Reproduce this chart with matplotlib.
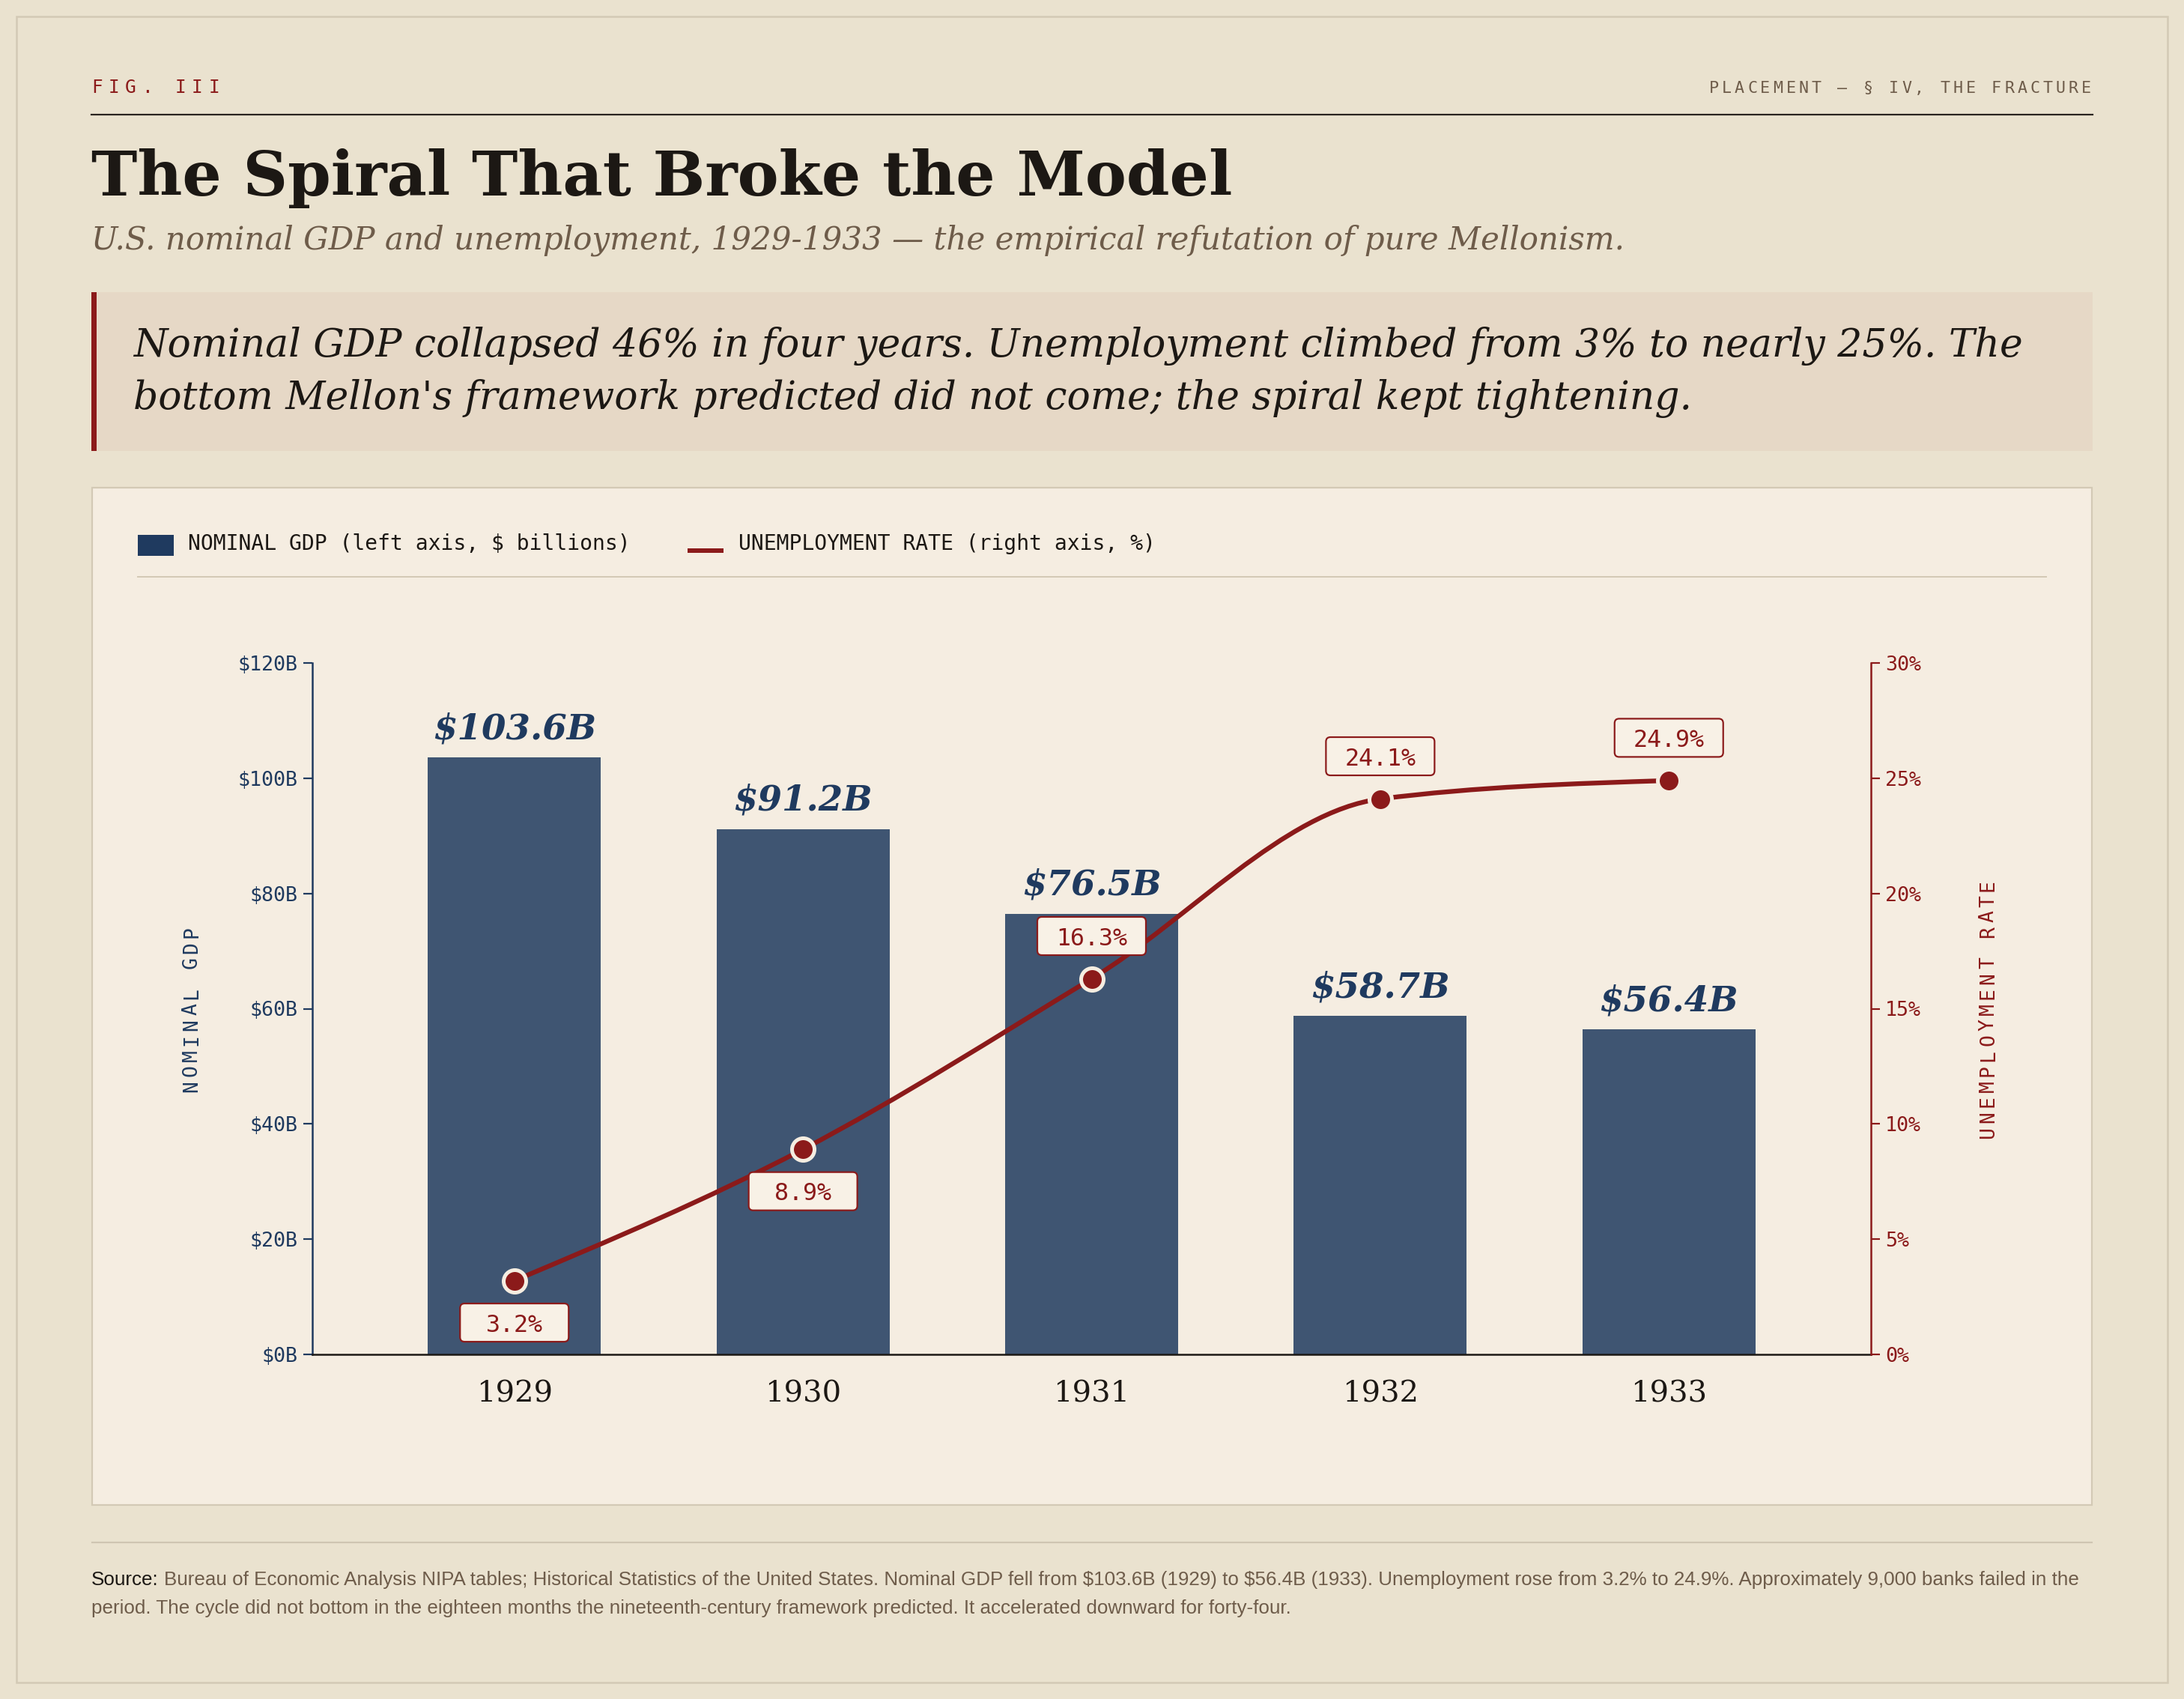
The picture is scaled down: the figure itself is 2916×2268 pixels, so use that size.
import numpy as np
import matplotlib
matplotlib.use("Agg")
import matplotlib.pyplot as plt
from matplotlib.patches import Rectangle, FancyBboxPatch, PathPatch
from matplotlib.path import Path
from matplotlib.transforms import IdentityTransform

# ---------------- data ----------------
years = ["1929", "1930", "1931", "1932", "1933"]
gdp = [103.6, 91.2, 76.5, 58.7, 56.4]
unemp = [3.2, 8.9, 16.3, 24.1, 24.9]
gdp_labels = ["$103.6B", "$91.2B", "$76.5B", "$58.7B", "$56.4B"]
unemp_labels = ["3.2%", "8.9%", "16.3%", "24.1%", "24.9%"]
gdp_ticks = [0, 20, 40, 60, 80, 100, 120]
gdp_ticklabels = ["$0B", "$20B", "$40B", "$60B", "$80B", "$100B", "$120B"]
unemp_ticks = [0, 5, 10, 15, 20, 25, 30]
unemp_ticklabels = ["0%", "5%", "10%", "15%", "20%", "25%", "30%"]

# ---------------- style ----------------
W, H = 2916, 2268
DPI = 200
BG = "#eae2cf"
PANEL = "#f5ede1"
CALLOUT = "#e6d8c6"
NAVY = "#1f3a5f"
RED = "#8b1a1a"
INK = "#1c1814"
MUTED = "#6e5c4a"
RULE = "#d3c9b5"
MONO = "DejaVu Sans Mono"
SERIF = "DejaVu Serif"
SANS = "Liberation Sans"

fig = plt.figure(figsize=(W / DPI, H / DPI), dpi=DPI, facecolor=BG)
renderer = fig.canvas.get_renderer()


def fx(x):
    return x / W


def fy(y):
    return 1 - y / H


def rect(x0, y0, x1, y1, **kw):
    r = Rectangle((fx(x0), fy(y1)), (x1 - x0) / W, (y1 - y0) / H,
                  transform=fig.transFigure, zorder=-5, **kw)
    fig.patches.append(r)
    return r


def pt(px):
    return px * 72 / DPI


def fit_text(x, y, s, target_w, fs0, **kw):
    t = fig.text(fx(x), fy(y), s, fontsize=fs0, parse_math=False, **kw)
    w = t.get_window_extent(renderer).width
    fs = fs0 * target_w / w
    t.set_fontsize(fs)
    return t, fs


def spaced(x, y, s, fs, sp, color, ha="left"):
    em = fs * DPI / 72
    adv = 0.602 * em + sp
    total = adv * (len(s) - 1) + 0.602 * em
    x0 = x - total if ha == "right" else x
    for i, c in enumerate(s):
        fig.text(fx(x0 + i * adv), fy(y), c, fontsize=fs, family=MONO,
                 color=color, ha="left", va="baseline")


def spaced_vert(xc, yc, s, fs, sp, color):
    em = fs * DPI / 72
    adv = 0.602 * em + sp
    total = adv * (len(s) - 1) + 0.602 * em
    ystart = yc + total / 2 - 0.301 * em
    for i, c in enumerate(s):
        fig.text(fx(xc), fy(ystart - i * adv), c, fontsize=fs, family=MONO,
                 color=color, ha="center", va="center", rotation=90)


# ---------------- frame & header ----------------
rect(22, 22, 2894, 2246, facecolor="none", edgecolor=RULE, lw=pt(2.5))

spaced(122, 124, "FIG. III", 8.8, 7.6, RED)
spaced(2792, 124, "PLACEMENT \u2014 \u00a7 IV, THE FRACTURE", 7.8, 4.1, MUTED, ha="right")
fig.add_artist(plt.Line2D([fx(122), fx(2794)], [fy(153), fy(153)],
                          transform=fig.transFigure, color="#2a2420", lw=pt(2.2)))

fit_text(122, 261, "The Spiral That Broke the Model", 1523, 32,
         family=SERIF, weight="bold", color=INK, va="baseline")
fit_text(122, 332, "U.S. nominal GDP and unemployment, 1929-1933 \u2014 the empirical refutation of pure Mellonism.",
         2046, 14, family=SERIF, style="italic", color=MUTED, va="baseline")

# callout
rect(122, 390, 2794, 602, facecolor=CALLOUT, edgecolor="none")
rect(122, 390, 129, 602, facecolor=RED, edgecolor="none")
_, cfs = fit_text(178, 476,
                  "Nominal GDP collapsed 46% in four years. Unemployment climbed from 3% to nearly 25%. The",
                  2522, 19, family=SERIF, style="italic", color=INK, va="baseline")
fig.text(fx(178), fy(546), "bottom Mellon's framework predicted did not come; the spiral kept tightening.",
         fontsize=cfs, family=SERIF, style="italic", color=INK, va="baseline")

# chart panel
rect(123, 651, 2793, 2009, facecolor=PANEL, edgecolor=RULE, lw=pt(2.2))

# legend
rect(184, 714, 232, 742, facecolor=NAVY, edgecolor="none")
fig.text(fx(251), fy(734), "NOMINAL GDP (left axis, $ billions)", fontsize=10.1,
         family=MONO, color=INK, va="baseline", parse_math=False)
rect(918, 732, 966, 738, facecolor=RED, edgecolor="none")
fig.text(fx(986), fy(734), "UNEMPLOYMENT RATE (right axis, %)", fontsize=10.1,
         family=MONO, color=INK, va="baseline")
fig.add_artist(plt.Line2D([fx(184), fx(2732)], [fy(770), fy(770)],
                          transform=fig.transFigure, color=RULE, lw=pt(2)))

# ---------------- axes ----------------
ax = fig.add_axes([fx(417), fy(1808), (2498 - 417) / W, (1808 - 885) / H])
ax.set_facecolor("none")
x = np.arange(len(years))
ax.set_xlim(-0.7, len(years) - 0.3)
ax.set_ylim(gdp_ticks[0], gdp_ticks[-1])
ax.bar(x, gdp, width=0.6, color=NAVY, alpha=0.85, zorder=2, linewidth=0)

for s in ["top", "right"]:
    ax.spines[s].set_visible(False)
ax.spines["left"].set_color(NAVY)
ax.spines["left"].set_linewidth(pt(2.5))
ax.spines["bottom"].set_color(INK)
ax.spines["bottom"].set_linewidth(pt(2.5))
ax.set_yticks(gdp_ticks)
ax.set_yticklabels(gdp_ticklabels)
ax.tick_params(axis="y", colors=NAVY, length=pt(12), width=pt(2.2), pad=pt(7),
               labelsize=9.6, labelfontfamily=MONO)
ax.set_xticks(x)
ax.set_xticklabels([])
ax.tick_params(axis="x", length=0)

# bar value labels
_probe = fig.text(0, 0, gdp_labels[0], fontsize=17, family=SERIF, weight="bold", style="italic",
                  parse_math=False)
bfs = 17 * 218 / _probe.get_window_extent(renderer).width
_probe.remove()
for i, (g, lbl) in enumerate(zip(gdp, gdp_labels)):
    ax.annotate(lbl, xy=(i, g), xytext=(0, pt(25)), textcoords="offset points",
                ha="center", va="baseline", family=SERIF, weight="bold",
                style="italic", fontsize=bfs, color=NAVY, zorder=5, parse_math=False)

# year labels
_probe = fig.text(0, 0, years[0], fontsize=14, family=SERIF)
yfs = 14 * 102 / _probe.get_window_extent(renderer).width
_probe.remove()
for i, yl in enumerate(years):
    ax.annotate(yl, xy=(i, 0), xycoords=("data", "axes fraction"),
                xytext=(0, -pt(63)), textcoords="offset points",
                ha="center", va="baseline", family=SERIF, fontsize=yfs, color=INK)

# right axis
ax2 = ax.twinx()
ax2.set_ylim(unemp_ticks[0], unemp_ticks[-1])
ax2.set_xlim(ax.get_xlim())
for s in ["top", "left", "bottom"]:
    ax2.spines[s].set_visible(False)
ax2.spines["right"].set_color(RED)
ax2.spines["right"].set_linewidth(pt(2.5))
ax2.set_yticks(unemp_ticks)
ax2.set_yticklabels(unemp_ticklabels)
ax2.tick_params(axis="y", colors=RED, length=pt(12), width=pt(2.2), pad=pt(7),
                labelsize=9.6, labelfontfamily=MONO)

# monotone cubic (d3 curveMonotoneX) path through the unemployment points
xs = x.astype(float)
ys = np.array(unemp, dtype=float)
n = len(xs)
h = np.diff(xs)
sl = np.diff(ys) / h
tang = np.zeros(n)
for i in range(1, n - 1):
    p = (sl[i - 1] * h[i] + sl[i] * h[i - 1]) / (h[i - 1] + h[i])
    tang[i] = (np.sign(sl[i - 1]) + np.sign(sl[i])) * min(abs(sl[i - 1]), abs(sl[i]), 0.5 * abs(p))
tang[0] = (3 * sl[0] - tang[1]) / 2
tang[-1] = (3 * sl[-1] - tang[-2]) / 2
verts = [(xs[0], ys[0])]
codes = [Path.MOVETO]
for i in range(n - 1):
    dx = (xs[i + 1] - xs[i]) / 3
    verts += [(xs[i] + dx, ys[i] + dx * tang[i]),
              (xs[i + 1] - dx, ys[i + 1] - dx * tang[i + 1]),
              (xs[i + 1], ys[i + 1])]
    codes += [Path.CURVE4] * 3
ax2.add_patch(PathPatch(Path(verts, codes), fill=False, edgecolor=RED,
                        lw=pt(6.3), capstyle="round", joinstyle="round", zorder=3))
ax2.plot(x, unemp, "o", ms=pt(30), mfc=RED, mec=PANEL, mew=pt(5), zorder=4,
         linestyle="none")

# unemployment value labels (fixed-size boxes)
fig.canvas.draw()
BW, BH = 145, 51
for i, (u, lbl) in enumerate(zip(unemp, unemp_labels)):
    px, py = ax2.transData.transform((i, u))
    cy = py - 56 if u < 10 else py + 57
    box = FancyBboxPatch((px - BW / 2, cy - BH / 2), BW, BH,
                         boxstyle="round,pad=0,rounding_size=6",
                         transform=IdentityTransform(), facecolor="#f8f1e6",
                         edgecolor=RED, lw=pt(2.2), zorder=6, clip_on=False)
    ax2.add_artist(box)
    ax2.text(px, cy, lbl, transform=IdentityTransform(), ha="center",
             va="center_baseline", family=MONO, fontsize=11.4, color=RED,
             zorder=7, clip_on=False)

# axis titles
spaced_vert(256, 1347, "NOMINAL GDP", 9.5, 4.7, NAVY)
spaced_vert(2655, 1347, "UNEMPLOYMENT RATE", 9.5, 4.7, RED)

# ---------------- footer ----------------
fig.add_artist(plt.Line2D([fx(123), fx(2793)], [fy(2059), fy(2059)],
                          transform=fig.transFigure, color="#cfc5b2", lw=pt(2.2)))
line1 = ("Bureau of Economic Analysis NIPA tables; Historical Statistics of the United States. "
         "Nominal GDP fell from $103.6B (1929) to $56.4B (1933). Unemployment rose from 3.2% to 24.9%. "
         "Approximately 9,000 banks failed in the")
line2 = ("period. The cycle did not bottom in the eighteen months the nineteenth-century framework "
         "predicted. It accelerated downward for forty-four.")
fs0 = 9.0
t_src = fig.text(fx(122), fy(2116), "Source:", fontsize=fs0, family=SANS,
                 color=INK, va="baseline")
t_l1 = fig.text(0, 0, line1, fontsize=fs0, family=SANS, color=MUTED, va="baseline",
                parse_math=False)
w_src = t_src.get_window_extent(renderer).width
w_l1 = t_l1.get_window_extent(renderer).width
sp = 0.28 * fs0 * DPI / 72
scale = 2652 / (w_src + sp + w_l1)
ffs = fs0 * scale
t_src.set_fontsize(ffs)
t_l1.set_fontsize(ffs)
t_l1.set_position((fx(122 + (w_src + sp) * scale), fy(2116)))
fig.text(fx(122), fy(2154), line2, fontsize=ffs, family=SANS, color=MUTED, va="baseline",
         parse_math=False)

fig.savefig("out.png", dpi=DPI, facecolor=BG)
